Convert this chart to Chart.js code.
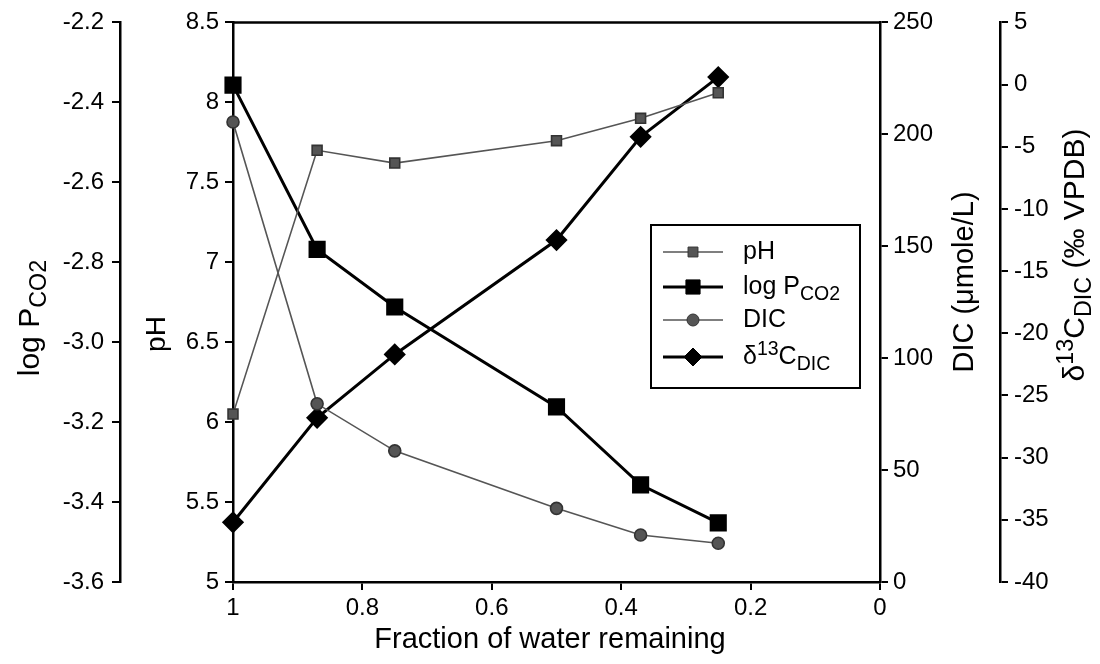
<!DOCTYPE html>
<html>
<head>
<meta charset="utf-8">
<script src="https://cdn.jsdelivr.net/npm/chart.js@4"></script>
<style>
  body { margin: 0; background: #fff; }
</style>
</head>
<body>
<canvas id="evap" width="1100" height="664"></canvas>
<script>
// evaporation series: fraction of water left vs. pH, log PCO2, DIC and d13C of DIC
var fraction = [1, 0.87, 0.75, 0.5, 0.37, 0.25];
var phValues = [6.05, 7.70, 7.62, 7.76, 7.90, 8.06];
var logPco2  = [-2.357, -2.768, -2.912, -3.162, -3.357, -3.452];
var dicValues = [205.5, 79.6, 58.6, 32.9, 21.0, 17.3];
var d13cDic  = [-35.2, -26.8, -21.7, -12.5, -4.2, 0.6];

var FONT = '"Liberation Sans", Arial, sans-serif';

// rich labels: parts with optional sub/sup
var legendText = [
  [{t: 'pH'}],
  [{t: 'log P'}, {t: 'CO2', sub: true}],
  [{t: 'DIC'}],
  [{t: '\u03b4'}, {t: '13', sup: true}, {t: 'C'}, {t: 'DIC', sub: true}]
];
var titleX = [{t: 'Fraction of water remaining'}];
var titleLog = [{t: 'log P'}, {t: 'CO2', sub: true}];
var titlePh = [{t: 'pH'}];
var titleDic = [{t: 'DIC (\u03bcmole/L)'}];
var titleD13 = [{t: '\u03b4'}, {t: '13', sup: true}, {t: 'C'}, {t: 'DIC', sub: true}, {t: ' (\u2030 VPDB)'}];

function pts(vals) {
  return fraction.map(function (f, i) { return {x: f, y: vals[i]}; });
}

var SMALL = 0.78;

function richWidth(ctx, parts, size) {
  var w = 0;
  parts.forEach(function (p) {
    var s = (p.sub || p.sup) ? size * SMALL : size;
    ctx.font = s + 'px ' + FONT;
    w += ctx.measureText(p.t).width;
  });
  return w;
}

// draws parts starting at x (or centred when centre is true), middle at y
function drawRich(ctx, parts, x, y, size, rotate, centre) {
  ctx.save();
  ctx.translate(x, y);
  if (rotate) ctx.rotate(-Math.PI / 2);
  var cx = centre ? -richWidth(ctx, parts, size) / 2 : 0;
  ctx.fillStyle = '#000';
  ctx.textBaseline = 'middle';
  ctx.textAlign = 'left';
  parts.forEach(function (p) {
    var s = (p.sub || p.sup) ? size * SMALL : size;
    var dy = p.sub ? size * 0.3 : (p.sup ? -size * 0.3 : 0);
    ctx.font = s + 'px ' + FONT;
    ctx.fillText(p.t, cx, dy);
    cx += ctx.measureText(p.t).width;
  });
  ctx.restore();
}

var decor = {
  id: 'decor',
  afterDraw: function (chart) {
    var ctx = chart.ctx, a = chart.chartArea;
    ctx.save();
    // top frame line
    ctx.strokeStyle = '#000';
    ctx.lineWidth = 2.5;
    ctx.beginPath();
    ctx.moveTo(a.left, a.top);
    ctx.lineTo(a.right, a.top);
    ctx.stroke();

    // axis titles
    drawRich(ctx, titleX, 550, 640, 29, false, true);
    drawRich(ctx, titleLog, 31, 318, 30, true, true);
    drawRich(ctx, titlePh, 157, 334, 28, true, true);
    drawRich(ctx, titleDic, 965, 282, 29, true, true);
    drawRich(ctx, titleD13, 1076, 255, 30, true, true);

    // legend box
    var bx = 651, by = 225, bw = 209, bh = 163;
    ctx.fillStyle = '#fff';
    ctx.fillRect(bx, by, bw, bh);
    ctx.strokeStyle = '#000';
    ctx.lineWidth = 2;
    ctx.strokeRect(bx, by, bw, bh);
    var rows = [252, 287, 320, 357];
    chart.data.datasets.forEach(function (ds, i) {
      var y = rows[i];
      ctx.strokeStyle = ds.borderColor;
      ctx.lineWidth = ds.borderWidth;
      ctx.beginPath();
      ctx.moveTo(663, y);
      ctx.lineTo(723, y);
      ctx.stroke();
      ctx.fillStyle = ds.pointBackgroundColor;
      ctx.strokeStyle = ds.pointBorderColor;
      ctx.lineWidth = 1;
      Chart.helpers.drawPoint(ctx, {pointStyle: ds.pointStyle, radius: ds.pointRadius, borderWidth: 1}, 693, y);
      drawRich(ctx, legendText[i], 743, y, 25, false, false);
    });
    ctx.restore();
  }
};

var tickFont = {family: FONT, size: 24};
function axisGrid() {
  return {drawOnChartArea: false, color: '#000', tickLength: 8, lineWidth: 2};
}
var axisBorder = {color: '#000', width: 2.5};

new Chart(document.getElementById('evap'), {
  type: 'line',
  data: {
    datasets: [{
      label: 'pH',
      data: pts(phValues),
      yAxisID: 'yPh',
      borderColor: '#555',
      borderWidth: 1.6,
      pointStyle: 'rect',
      pointRadius: 7,
      pointBackgroundColor: '#555',
      pointBorderColor: '#333'
    }, {
      label: 'log PCO2',
      data: pts(logPco2),
      yAxisID: 'yLog',
      borderColor: '#000',
      borderWidth: 3,
      pointStyle: 'rect',
      pointRadius: 10,
      pointBackgroundColor: '#000',
      pointBorderColor: '#000'
    }, {
      label: 'DIC',
      data: pts(dicValues),
      yAxisID: 'yDic',
      borderColor: '#555',
      borderWidth: 1.6,
      pointStyle: 'circle',
      pointRadius: 6,
      pointBackgroundColor: '#555',
      pointBorderColor: '#333'
    }, {
      label: 'd13C DIC',
      data: pts(d13cDic),
      yAxisID: 'yD13',
      borderColor: '#000',
      borderWidth: 3,
      pointStyle: 'rectRot',
      pointRadius: 9,
      pointBackgroundColor: '#000',
      pointBorderColor: '#000'
    }]
  },
  options: {
    responsive: false,
    animation: false,
    devicePixelRatio: 1,
    layout: {padding: {top: 22, bottom: 0, left: 0, right: 0}},
    datasets: {line: {clip: false, tension: 0}},
    plugins: {legend: {display: false}, tooltip: {enabled: false}},
    scales: {
      x: {
        type: 'linear', reverse: true, min: 0, max: 1, position: 'bottom',
        ticks: {stepSize: 0.2, color: '#000', font: tickFont, padding: 4,
          callback: function (v) { return String(+v.toFixed(1)); }},
        grid: axisGrid(), border: axisBorder,
        afterFit: function (s) { s.height = 82; }
      },
      yLog: {
        position: 'left', weight: 2, min: -3.6, max: -2.2,
        ticks: {stepSize: 0.2, color: '#000', font: tickFont, padding: 8,
          callback: function (v) { return v.toFixed(1); }},
        grid: axisGrid(), border: axisBorder,
        afterFit: function (s) { s.width = 120; }
      },
      yPh: {
        position: 'left', weight: 1, min: 5, max: 8.5,
        ticks: {stepSize: 0.5, color: '#000', font: tickFont, padding: 6,
          callback: function (v) { return String(+v.toFixed(1)); }},
        grid: axisGrid(), border: axisBorder,
        afterFit: function (s) { s.width = 113; }
      },
      yDic: {
        position: 'right', weight: 1, min: 0, max: 250,
        ticks: {stepSize: 50, color: '#000', font: tickFont, padding: 5},
        grid: axisGrid(), border: axisBorder,
        afterFit: function (s) { s.width = 120; }
      },
      yD13: {
        position: 'right', weight: 2, min: -40, max: 5,
        ticks: {stepSize: 5, color: '#000', font: tickFont, padding: 6},
        grid: axisGrid(), border: axisBorder,
        afterFit: function (s) { s.width = 100; }
      }
    }
  },
  plugins: [decor]
});
</script>
</body>
</html>
